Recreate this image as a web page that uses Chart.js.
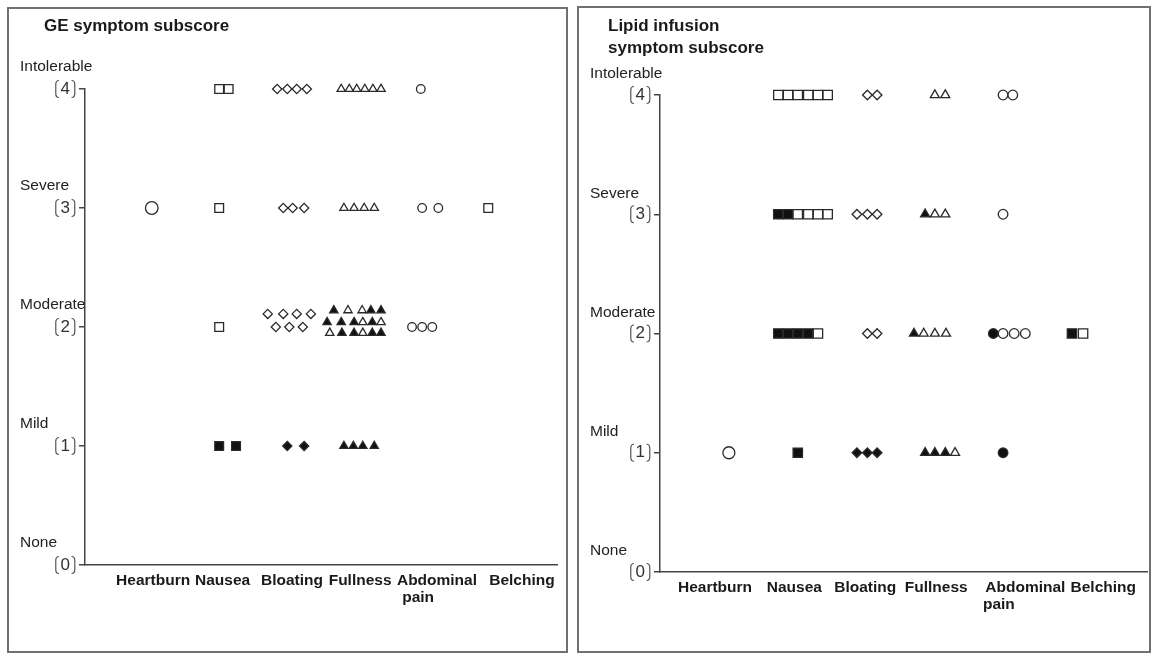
<!DOCTYPE html>
<html><head><meta charset="utf-8">
<script src="https://cdn.jsdelivr.net/npm/chart.js@4.4.0/dist/chart.umd.min.js"></script>
<style>
html,body{margin:0;padding:0;background:#fff;width:1153px;height:654px;overflow:hidden;}
.panel{position:absolute;border:2px solid #707070;box-sizing:border-box;background:#fff;overflow:visible;}
.panel canvas{display:block;}
</style></head><body>
<div class="panel" style="left:7px;top:7px;width:561px;height:646px;"><canvas id="c1" width="557" height="642"></canvas></div>
<div class="panel" style="left:577px;top:6px;width:574px;height:647px;"><canvas id="c2" width="576" height="643"></canvas></div>
<script>
// ---------- shared axis text ----------
const levelWords  = ['None', 'Mild', 'Moderate', 'Severe', 'Intolerable'];
const levelValues = [0, 1, 2, 3, 4];
const levelTicks  = ['0', '1', '2', '3', '4'];

// ---------- GE symptom subscore (left) ----------
const geTitle   = ['GE symptom subscore'];
const geCatText = ['Heartburn', 'Nausea', 'Bloating', 'Fullness', 'Abdominal', 'pain', 'Belching'];
const geCatX    = [1.01, 2.04, 3.07, 4.08, 5.22, 4.94, 6.48];
const geCatRow  = [0, 0, 0, 0, 0, 1, 0];

const geBigCircleX = [0.99];
const geBigCircleY = [3];
const geOpenSquareX = [1.99, 2.13, 1.99, 1.99, 5.98];
const geOpenSquareY = [4, 4, 3, 2, 3];
const geFilledSquareX = [1.99, 2.24];
const geFilledSquareY = [1, 1];
const geOpenDiamondX = [2.85, 3.00, 3.14, 3.29, 2.94, 3.08, 3.25, 2.71, 2.94, 3.14, 3.35, 2.83, 3.03, 3.23];
const geOpenDiamondY = [4, 4, 4, 4, 3, 3, 3, 2.11, 2.11, 2.11, 2.11, 2, 2, 2];
const geFilledDiamondX = [3.00, 3.25];
const geFilledDiamondY = [1, 1];
const geOpenTriangleX = [3.80, 3.92, 4.03, 4.15, 4.27, 4.39, 3.84, 3.99, 4.14, 4.29, 3.90, 4.11, 4.12, 4.39, 3.63, 4.12];
const geOpenTriangleY = [4, 4, 4, 4, 4, 4, 3, 3, 3, 3, 2.14, 2.14, 2.04, 2.04, 1.95, 1.95];
const geFilledTriangleX = [3.69, 4.24, 4.39, 3.59, 3.80, 3.99, 4.26, 3.81, 3.99, 4.26, 4.39, 3.84, 3.98, 4.12, 4.29];
const geFilledTriangleY = [2.14, 2.14, 2.14, 2.04, 2.04, 2.04, 2.04, 1.95, 1.95, 1.95, 1.95, 1, 1, 1, 1];
const geOpenCircleX = [4.98, 5.00, 5.24, 4.85, 5.00, 5.15];
const geOpenCircleY = [4, 3, 3, 2, 2, 2];

// ---------- Lipid infusion symptom subscore (right) ----------
const lipTitle   = ['Lipid infusion', 'symptom subscore'];
const lipCatText = ['Heartburn', 'Nausea', 'Bloating', 'Fullness', 'Abdominal', 'pain', 'Belching'];
const lipCatX    = [0.79, 1.93, 2.95, 3.97, 5.25, 4.87, 6.37];
const lipCatRow  = [0, 0, 0, 0, 0, 1, 0];

const lipBigCircleX = [0.99];
const lipBigCircleY = [1];
const lipOpenSquareX = [1.70, 1.84, 1.98, 2.13, 2.27, 2.41, 1.98, 2.13, 2.27, 2.41, 2.27, 6.08];
const lipOpenSquareY = [4, 4, 4, 4, 4, 4, 3, 3, 3, 3, 2, 2];
const lipFilledSquareX = [1.70, 1.84, 1.70, 1.84, 1.98, 2.13, 1.98, 5.92];
const lipFilledSquareY = [3, 3, 2, 2, 2, 2, 1, 2];
const lipOpenDiamondX = [2.98, 3.12, 2.83, 2.98, 3.12, 2.98, 3.12];
const lipOpenDiamondY = [4, 4, 3, 3, 3, 2, 2];
const lipFilledDiamondX = [2.83, 2.98, 3.12];
const lipFilledDiamondY = [1, 1, 1];
const lipOpenTriangleX = [3.95, 4.10, 3.95, 4.10, 3.79, 3.95, 4.11, 4.24];
const lipOpenTriangleY = [4, 4, 3, 3, 2, 2, 2, 1];
const lipFilledTriangleX = [3.81, 3.65, 3.81, 3.95, 4.10];
const lipFilledTriangleY = [3, 2, 1, 1, 1];
const lipOpenCircleX = [4.93, 5.07, 4.93, 4.93, 5.09, 5.25];
const lipOpenCircleY = [4, 4, 3, 2, 2, 2];
const lipFilledCircleX = [4.79, 4.93];
const lipFilledCircleY = [2, 1];

// ---------- helpers ----------
const FONT = '"Liberation Sans", Arial, Helvetica, sans-serif';
function pts(xs, ys) { return xs.map((x, i) => ({ x: x, y: ys[i] })); }
function ds(xs, ys, style, filled, r) {
  return {
    data: pts(xs, ys), pointStyle: style, pointRadius: r, pointHoverRadius: r,
    pointBorderWidth: 1.3, pointBorderColor: '#2a2a2a',
    pointBackgroundColor: filled ? '#111' : '#fff',
    showLine: false, clip: false
  };
}
function bracket(ctx, x, y, dir, h) {
  const w = 3.2, top = y - h / 2, bot = y + h / 2;
  ctx.beginPath();
  ctx.moveTo(x - dir * w, top);
  ctx.quadraticCurveTo(x, top, x, top + 4);
  ctx.lineTo(x, bot - 4);
  ctx.quadraticCurveTo(x, bot, x - dir * w, bot);
  ctx.stroke();
}

const decor = {
  id: 'decor',
  afterDraw(chart, args, o) {
    const ctx = chart.ctx, ys = chart.scales.y, xs = chart.scales.x, ca = chart.chartArea;
    ctx.save();
    ctx.fillStyle = '#1a1a1a';
    ctx.textBaseline = 'middle';
    ctx.textAlign = 'left';
    ctx.font = 'bold 17px ' + FONT;
    o.title.forEach((t, i) => ctx.fillText(t, o.titleX, o.titleY + i * 22));
    ctx.font = '15.5px ' + FONT;
    ctx.fillStyle = '#222';
    levelWords.forEach((w, i) => {
      ctx.fillText(w, o.wordX, ys.getPixelForValue(levelValues[i]) + o.wordDY);
    });
    // brackets around tick numbers
    ctx.strokeStyle = '#555';
    ctx.lineWidth = 1.2;
    ctx.font = '17px ' + FONT;
    levelValues.forEach((v, i) => {
      const y = ys.getPixelForValue(v);
      const right = ca.left - 15;
      const cx = right - ctx.measureText(levelTicks[i]).width / 2;
      bracket(ctx, cx - 9.5, y, -1, 17);
      bracket(ctx, cx + 9.5, y, 1, 17);
    });
    // category labels
    ctx.fillStyle = '#1a1a1a';
    ctx.font = 'bold 15.5px ' + FONT;
    ctx.textAlign = 'center';
    o.cats.forEach((c, i) => {
      ctx.fillText(c, xs.getPixelForValue(o.catX[i]), ca.bottom + o.catDY + o.catRow[i] * 17);
    });
    ctx.restore();
  }
};

function makeChart(id, datasets, opt) {
  return new Chart(document.getElementById(id), {
    type: 'scatter',
    data: { datasets: datasets },
    options: {
      responsive: false, animation: false, devicePixelRatio: 1, events: [],
      layout: { padding: { left: 0, top: opt.padTop, right: opt.padRight, bottom: 0 } },
      plugins: {
        legend: { display: false }, tooltip: { enabled: false },
        decor: opt.decor
      },
      scales: {
        x: {
          type: 'linear', min: 0, max: 7,
          ticks: { display: false },
          grid: { display: false },
          border: { display: true, color: '#444', width: 1.5 },
          afterFit(s) { s.height = opt.xH; }
        },
        y: {
          type: 'linear', min: 0, max: 4,
          ticks: {
            stepSize: 1, padding: 9, color: '#333',
            font: { family: FONT, size: 17 },
            callback: (v) => levelTicks[levelValues.indexOf(v)] || ''
          },
          grid: { display: true, drawOnChartArea: false, drawTicks: true, tickLength: 6, color: '#444', lineWidth: 1.5 },
          border: { display: true, color: '#444', width: 1.5 },
          afterFit(s) { s.width = opt.yW; }
        }
      }
    },
    plugins: [decor]
  });
}

makeChart('c1', [
  ds(geBigCircleX, geBigCircleY, 'circle', false, 6.3),
  ds(geOpenSquareX, geOpenSquareY, 'rect', false, 6.2),
  ds(geFilledSquareX, geFilledSquareY, 'rect', true, 6.2),
  ds(geOpenDiamondX, geOpenDiamondY, 'rectRot', false, 4.6),
  ds(geFilledDiamondX, geFilledDiamondY, 'rectRot', true, 4.6),
  ds(geOpenTriangleX, geOpenTriangleY, 'triangle', false, 4.8),
  ds(geFilledTriangleX, geFilledTriangleY, 'triangle', true, 4.8),
  ds(geOpenCircleX, geOpenCircleY, 'circle', false, 4.3)
], {
  padTop: 80, padRight: 9, xH: 86, yW: 76,
  decor: { title: geTitle, titleX: 35, titleY: 17, wordX: 11, wordDY: -22,
           cats: geCatText, catX: geCatX, catRow: geCatRow, catDY: 16 }
});

makeChart('c2', [
  ds(lipBigCircleX, lipBigCircleY, 'circle', false, 6.0),
  ds(lipOpenSquareX, lipOpenSquareY, 'rect', false, 6.6),
  ds(lipFilledSquareX, lipFilledSquareY, 'rect', true, 6.6),
  ds(lipOpenDiamondX, lipOpenDiamondY, 'rectRot', false, 4.8),
  ds(lipFilledDiamondX, lipFilledDiamondY, 'rectRot', true, 4.8),
  ds(lipOpenTriangleX, lipOpenTriangleY, 'triangle', false, 5.2),
  ds(lipFilledTriangleX, lipFilledTriangleY, 'triangle', true, 5.2),
  ds(lipOpenCircleX, lipOpenCircleY, 'circle', false, 4.8),
  ds(lipFilledCircleX, lipFilledCircleY, 'circle', true, 4.8)
], {
  padTop: 87, padRight: 0, xH: 79, yW: 81,
  decor: { title: lipTitle, titleX: 29, titleY: 18, wordX: 11, wordDY: -21,
           cats: lipCatText, catX: lipCatX, catRow: lipCatRow, catDY: 16 }
});
</script>
</body></html>
